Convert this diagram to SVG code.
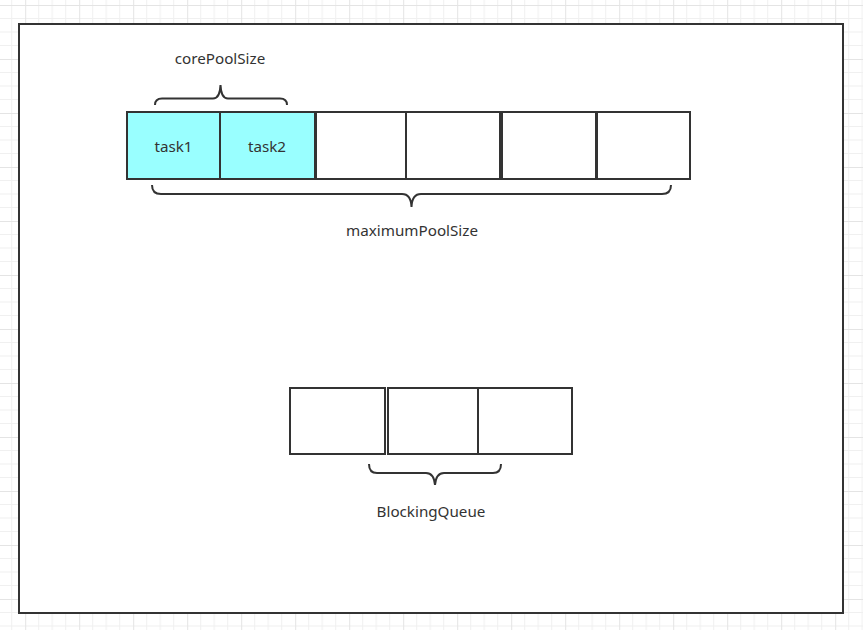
<svg xmlns="http://www.w3.org/2000/svg" width="863" height="630" viewBox="0 0 863 630">
  <defs>
    <pattern id="grid" width="54" height="54" patternUnits="userSpaceOnUse" patternTransform="translate(25.2 5)">
      <rect width="54" height="54" fill="#ffffff"/>
      <path d="M13.5 0V54M27 0V54M40.5 0V54M0 13.5H54M0 27H54M0 40.5H54" stroke="#f0f0f0" stroke-width="1" fill="none"/>
      <path d="M0.5 0V54M0 0.5H54" stroke="#e4e4e4" stroke-width="1" fill="none"/>
    </pattern>
    <style>
      .box { fill: #ffffff; stroke: #333333; stroke-width: 2; }
      .task { fill: #99ffff; stroke: #333333; stroke-width: 2; }
      .brace { fill: none; stroke: #333333; stroke-width: 2; }
      .lbl { font-family: "Noto Sans", "Open Sans", sans-serif; font-size: 15.2px; fill: #333333; text-anchor: middle; }
    </style>
  </defs>
  <rect width="863" height="630" fill="url(#grid)"/>
  <g id="frame">
    <rect x="19" y="24" width="824" height="589" fill="#ffffff" stroke="#333333" stroke-width="2"/>
  </g>
  <g id="pool">
    <g id="slot1"><rect class="task" x="127" y="112" width="93" height="67"/><text class="lbl" x="173.5" y="151.5">task1</text></g>
    <g id="slot2"><rect class="task" x="220" y="112" width="95" height="67"/><text class="lbl" x="267" y="151.5">task2</text></g>
    <g id="slot3"><rect class="box" x="316" y="112" width="90" height="67"/></g>
    <g id="slot4"><rect class="box" x="406" y="112" width="94" height="67"/></g>
    <g id="slot5"><rect class="box" x="502" y="112" width="94" height="67"/></g>
    <g id="slot6"><rect class="box" x="597" y="112" width="93" height="67"/></g>
  </g>
  <g id="queue">
    <g id="q1"><rect class="box" x="290" y="388" width="95" height="66"/></g>
    <g id="q2"><rect class="box" x="388" y="388" width="90" height="66"/></g>
    <g id="q3"><rect class="box" x="478" y="388" width="94" height="66"/></g>
  </g>
  <g id="connectors">
    <path class="brace" d="M155 105 Q155 98.5 162 98.5 H213 Q220 98.5 220.5 85 Q221 98.5 228 98.5 H280 Q287 98.5 287 105"/>
    <path class="brace" d="M152 185 Q152 194 161 194 H402 Q411 194 411.5 207 Q412 194 421 194 H662 Q671 194 671 185"/>
    <path class="brace" d="M369 464 Q369 473 377 473 H426 Q434 473 435 485 Q436 473 444 473 H493 Q501 473 501 464"/>
  </g>
  <g id="labels">
    <text class="lbl" x="220" y="63.5">corePoolSize</text>
    <text class="lbl" x="412" y="235.5">maximumPoolSize</text>
    <text class="lbl" x="431" y="516.5">BlockingQueue</text>
  </g>
</svg>
